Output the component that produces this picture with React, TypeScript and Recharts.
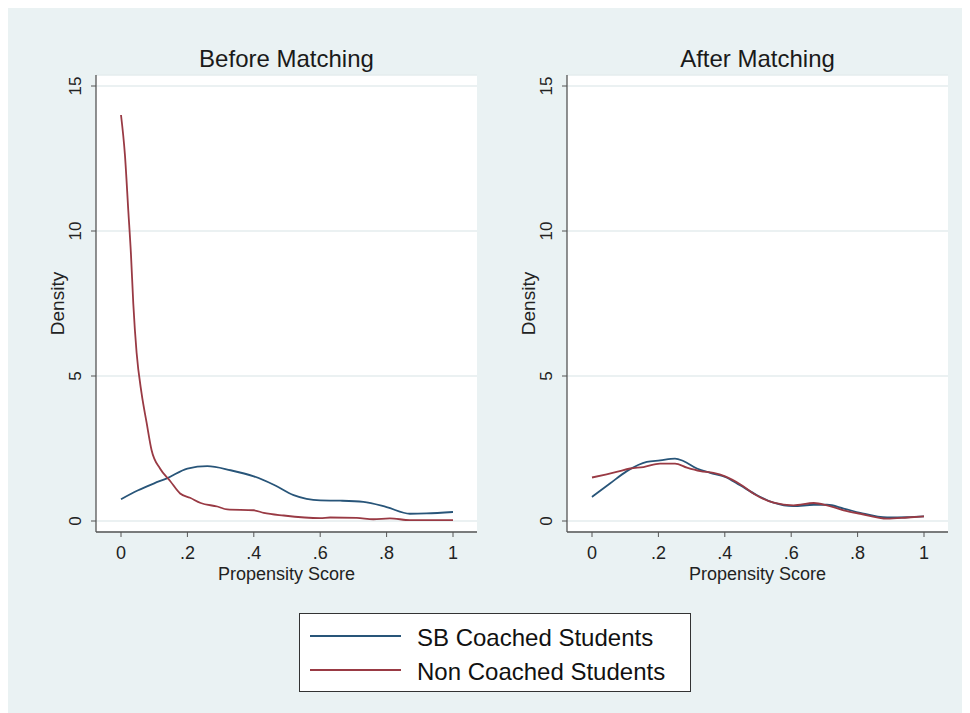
import React from 'react';
import { LineChart, Line, XAxis, YAxis, CartesianGrid } from 'recharts';

const xTicks = [0, 0.2, 0.4, 0.6, 0.8, 1];
const yTicks = [0, 5, 10, 15];
const panelTitles = ['Before Matching', 'After Matching'];
const seriesNames = ['SB Coached Students', 'Non Coached Students'];

// before matching
const beforeCoachedX = [0, 0.05, 0.1, 0.14, 0.2, 0.26, 0.33, 0.4, 0.46, 0.52, 0.6, 0.66, 0.73, 0.8, 0.87, 0.92, 1];
const beforeCoachedY = [0.75, 1.05, 1.3, 1.48, 1.81, 1.89, 1.75, 1.54, 1.25, 0.89, 0.71, 0.7, 0.66, 0.48, 0.25, 0.26, 0.31];
const beforeNonX = [0, 0.012, 0.022, 0.03, 0.037, 0.047, 0.062, 0.077, 0.092, 0.118, 0.148, 0.178, 0.208, 0.24, 0.29, 0.32, 0.4, 0.43, 0.49, 0.6, 0.63, 0.71, 0.76, 0.81, 0.87, 1];
const beforeNonY = [14.0, 12.6, 10.7, 9.2, 7.5, 5.8, 4.4, 3.4, 2.45, 1.8, 1.38, 0.95, 0.8, 0.62, 0.5, 0.4, 0.37, 0.28, 0.19, 0.1, 0.12, 0.11, 0.06, 0.09, 0.03, 0.03];

// after matching
const afterCoachedX = [0, 0.054, 0.105, 0.165, 0.205, 0.25, 0.275, 0.316, 0.356, 0.401, 0.446, 0.497, 0.547, 0.607, 0.668, 0.708, 0.758, 0.808, 0.889, 0.95, 1];
const afterCoachedY = [0.83, 1.29, 1.72, 2.04, 2.09, 2.15, 2.07, 1.81, 1.66, 1.52, 1.23, 0.89, 0.63, 0.51, 0.56, 0.56, 0.43, 0.28, 0.12, 0.13, 0.16];
const afterNonX = [0, 0.044, 0.074, 0.115, 0.155, 0.205, 0.25, 0.286, 0.326, 0.366, 0.401, 0.446, 0.487, 0.547, 0.607, 0.668, 0.708, 0.758, 0.808, 0.889, 0.95, 1];
const afterNonY = [1.5, 1.61, 1.69, 1.81, 1.86, 1.98, 1.98, 1.84, 1.72, 1.66, 1.54, 1.27, 0.94, 0.63, 0.54, 0.62, 0.54, 0.37, 0.25, 0.08, 0.12, 0.16];

const BLUE = '#285579';
const RED = '#993a44';
const BG = '#eaf2f3';
const FONT = '"Liberation Sans", Arial, sans-serif';

const toPoints = (xs: number[], ys: number[]) => xs.map((x, i) => ({ x, y: ys[i] }));

const panels = [
  { title: panelTitles[0], coached: toPoints(beforeCoachedX, beforeCoachedY), non: toPoints(beforeNonX, beforeNonY) },
  { title: panelTitles[1], coached: toPoints(afterCoachedX, afterCoachedY), non: toPoints(afterNonX, afterNonY) },
];

const fmtX = (v: number) => (v === 0 || v === 1 ? String(v) : String(v).replace(/^0/, ''));

function YTick({ x, y, payload }: any) {
  const cx = x - 16;
  return (
    <text x={cx} y={y} transform={`rotate(-90 ${cx} ${y})`} textAnchor="middle" dominantBaseline="central"
      fontSize={17} fontFamily={FONT} fill="#222">
      {payload.value}
    </text>
  );
}

function DensityLabel({ viewBox }: any) {
  const cx = viewBox.x + viewBox.width - 39;
  const cy = viewBox.y + viewBox.height / 2;
  return (
    <text x={cx} y={cy} transform={`rotate(-90 ${cx} ${cy})`} textAnchor="middle" dominantBaseline="central"
      fontSize={19} fontFamily={FONT} fill="#222">
      Density
    </text>
  );
}

function Panel({ data, left }: { data: typeof panels[0]; left: number }) {
  return (
    <div style={{ position: 'absolute', left, top: 0 }}>
      <div style={{ position: 'absolute', left: 88, top: 38, width: 381, textAlign: 'center', fontFamily: FONT,
        fontSize: 24, lineHeight: '26px', color: '#1a1a1a' }}>
        {data.title}
      </div>
      <LineChart width={481} height={600} margin={{ top: 67, right: 12, bottom: 16, left: 28 }}>
        <CartesianGrid vertical={false} stroke="#e4ecee" strokeWidth={1.5} fill="#ffffff" />
        <XAxis type="number" dataKey="x" domain={[0, 1]} ticks={xTicks} padding={{ left: 25, right: 24 }}
          height={60} tickSize={5} tickMargin={9} tickFormatter={fmtX}
          tick={{ fontSize: 18, fontFamily: FONT, fill: '#222' }}
          stroke="#555" axisLine={{ stroke: '#555', strokeWidth: 1.3 }} tickLine={{ stroke: '#555' }}
          label={{ value: 'Propensity Score', position: 'insideBottom', offset: 12, fontSize: 18, fontFamily: FONT, fill: '#222' }} />
        <YAxis type="number" domain={[0, 15]} ticks={yTicks} padding={{ top: 11, bottom: 11 }} width={60}
          tickSize={5} tickMargin={0} tick={<YTick />}
          axisLine={{ stroke: '#555', strokeWidth: 1.3 }} tickLine={{ stroke: '#555' }}
          label={<DensityLabel />} />
        <Line data={data.coached} dataKey="y" type="monotone" stroke={BLUE} strokeWidth={1.8} dot={false}
          isAnimationActive={false} name={seriesNames[0]} />
        <Line data={data.non} dataKey="y" type="monotone" stroke={RED} strokeWidth={1.8} dot={false}
          isAnimationActive={false} name={seriesNames[1]} />
      </LineChart>
    </div>
  );
}

function LegendBox() {
  const rows = [
    { name: seriesNames[0], color: BLUE },
    { name: seriesNames[1], color: RED },
  ];
  return (
    <div style={{ position: 'absolute', left: 291, top: 605, width: 390, height: 77, background: '#fff',
      border: '1px solid #333', fontFamily: FONT }}>
      {rows.map((r, i) => (
        <div key={r.name} style={{ position: 'absolute', left: 0, top: 9 + i * 34, height: 30, display: 'flex', alignItems: 'center' }}>
          <svg width={110} height={30} style={{ display: 'block' }}>
            <line x1={10} x2={101} y1={13} y2={13} stroke={r.color} strokeWidth={2} />
          </svg>
          <span style={{ fontSize: 24, color: '#111', whiteSpace: 'nowrap', marginLeft: 7 }}>{r.name}</span>
        </div>
      ))}
    </div>
  );
}

export default function App() {
  return (
    <div style={{ position: 'relative', width: 962, height: 705, background: BG, overflow: 'hidden' }}>
      <Panel data={panels[0]} left={0} />
      <Panel data={panels[1]} left={471} />
      <LegendBox />
    </div>
  );
}
